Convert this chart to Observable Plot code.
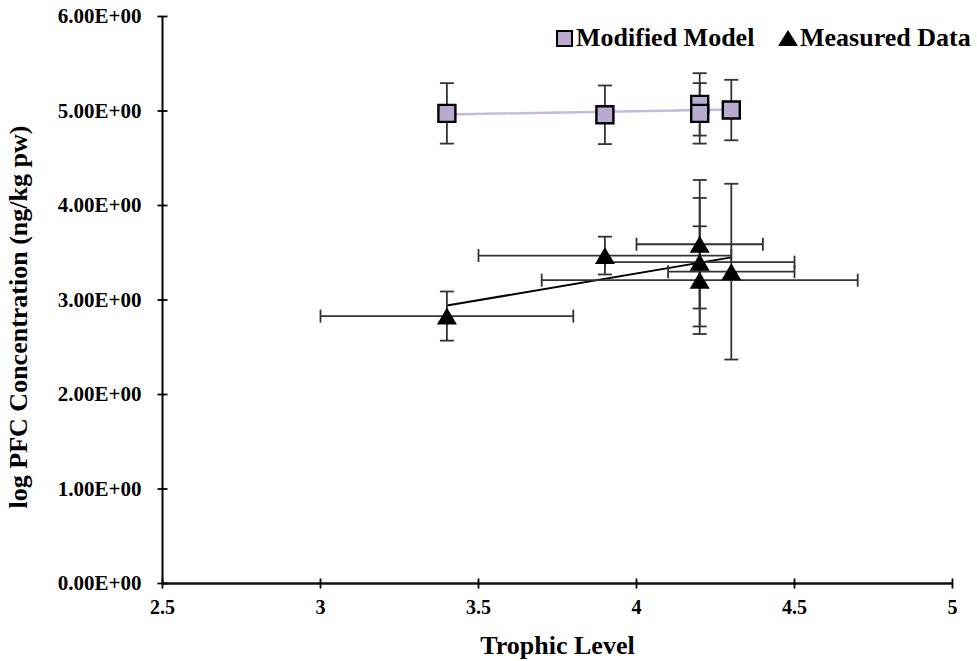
<!DOCTYPE html>
<html><head><meta charset="utf-8">
<script src="https://cdn.jsdelivr.net/npm/d3@7"></script>
<script src="https://cdn.jsdelivr.net/npm/@observablehq/plot@0.6"></script>
<style>
body{margin:0;background:#fff;}
#wrap{position:relative;width:977px;height:661px;font-family:"Liberation Serif","Times New Roman",serif;font-weight:bold;color:#000;}
.leg{position:absolute;top:24px;display:flex;align-items:center;font-family:"Liberation Serif","Times New Roman",serif;font-weight:700;font-size:26px;line-height:28px;white-space:nowrap;}
.sq{width:13px;height:13px;border:2px solid #000;background:#b8abcf;margin-right:3px;}
.tri{width:0;height:0;border-left:10px solid transparent;border-right:10px solid transparent;border-bottom:16px solid #000;margin-right:2px;}
</style></head><body><div id="wrap"></div>
<script>
// ---- data ----
const xTicks = [2.5, 3, 3.5, 4, 4.5, 5];
const yTicks = [0, 1, 2, 3, 4, 5, 6];
const seriesNames = ["Modified Model", "Measured Data"];
const xLabel = "Trophic Level";
const yLabel = "log PFC Concentration (ng/kg pw)";

const modelTrophic = [3.4, 3.9, 4.2, 4.2, 4.3];
const modelConc    = [4.975, 4.96, 5.07, 4.975, 5.01];
const modelConcErr = [0.32, 0.31, 0.33, 0.32, 0.32];

const measTrophic    = [3.4, 3.9, 4.2, 4.2, 4.2, 4.3];
const measConc       = [2.83, 3.47, 3.59, 3.40, 3.21, 3.30];
const measConcErr    = [0.26, 0.20, 0.68, 0.68, 0.57, 0.93];
const measTrophicErr = [0.4, 0.4, 0.2, 0.3, 0.5, 0.2];

// ---- tables ----
const model = modelTrophic.map((x, i) => ({x, y: modelConc[i], ey: modelConcErr[i], ex: 0}));
const meas = measTrophic.map((x, i) => ({x, y: measConc[i], ey: measConcErr[i], ex: measTrophicErr[i]}));
const allPts = model.concat(meas);

// ---- symbols ----
const hCap = {draw(c){ c.moveTo(-7, 0); c.lineTo(7, 0); }};
const vCap = {draw(c){ c.moveTo(0, -6.5); c.lineTo(0, 6.5); }};
const xTickSym = {draw(c){ c.moveTo(0, -5); c.lineTo(0, 5); }};
const yTickSym = {draw(c){ c.moveTo(-5, 0); c.lineTo(5, 0); }};
const squareSym = {draw(c){ c.rect(-8.5, -8.5, 17, 17); }};
const triSym = {draw(c){ c.moveTo(0, -8.5); c.lineTo(10, 8.5); c.lineTo(-10, 8.5); c.closePath(); }};

const fmtE = d => {
  const [m, e] = d.toExponential(2).split("e");
  return m + "E" + e[0] + e.slice(1).padStart(2, "0");
};

const errColor = "#333";
const font = "'Liberation Serif','Times New Roman',serif";

const chart = Plot.plot({
  width: 977,
  height: 661,
  marginLeft: 162,
  marginRight: 25,
  marginTop: 16,
  marginBottom: 78,
  style: {fontFamily: font, fontWeight: "bold", color: "#000", background: "#fff"},
  x: {domain: [2.5, 5], label: null},
  y: {domain: [0, 6], label: null},
  marks: [
    // axes lines
    Plot.ruleY([0], {stroke: "#111", strokeWidth: 2.6}),
    Plot.ruleX([2.5], {stroke: "#000", strokeWidth: 2}),
    Plot.dot(xTicks, {x: d => d, y: () => 0, symbol: xTickSym, r: 5, stroke: "#000", strokeWidth: 1.8, fill: "none"}),
    Plot.dot(yTicks, {x: () => 2.5, y: d => d, symbol: yTickSym, r: 5, stroke: "#000", strokeWidth: 1.8, fill: "none"}),
    Plot.axisX({ticks: xTicks, tickSize: 0, tickPadding: 16, fontSize: 20, label: null, tickFormat: d => String(d)}),
    Plot.axisY({ticks: yTicks, tickSize: 0, tickPadding: 21, fontSize: 21, label: null, tickFormat: fmtE}),
    Plot.text([xLabel], {frameAnchor: "bottom", dy: 62, lineAnchor: "middle", textAnchor: "middle", fontSize: 26, fontWeight: "bold"}),
    Plot.text([yLabel], {frameAnchor: "left", rotate: -90, dx: -144, dy: 17, lineAnchor: "middle", textAnchor: "middle", fontSize: 26, fontWeight: "bold"}),
    // trendlines
    Plot.linearRegressionY(model, {x: "x", y: "y", ci: 0, stroke: "#c6badb", strokeWidth: 2.5}),
    Plot.linearRegressionY(meas, {x: "x", y: "y", ci: 0, stroke: "#000", strokeWidth: 2}),
    // vertical error bars
    Plot.link(allPts, {x1: "x", x2: "x", y1: d => d.y - d.ey, y2: d => d.y + d.ey, stroke: errColor, strokeWidth: 1.8}),
    Plot.dot(allPts, {x: "x", y: d => d.y + d.ey, symbol: hCap, r: 5, stroke: errColor, strokeWidth: 1.8, fill: "none"}),
    Plot.dot(allPts, {x: "x", y: d => d.y - d.ey, symbol: hCap, r: 5, stroke: errColor, strokeWidth: 1.8, fill: "none"}),
    // horizontal error bars (measured)
    Plot.link(meas, {x1: d => d.x - d.ex, x2: d => d.x + d.ex, y1: "y", y2: "y", stroke: errColor, strokeWidth: 1.8}),
    Plot.dot(meas, {x: d => d.x - d.ex, y: "y", symbol: vCap, r: 5, stroke: errColor, strokeWidth: 1.8, fill: "none"}),
    Plot.dot(meas, {x: d => d.x + d.ex, y: "y", symbol: vCap, r: 5, stroke: errColor, strokeWidth: 1.8, fill: "none"}),
    // markers
    Plot.dot(model, {x: "x", y: "y", symbol: squareSym, r: 8, fill: "#b8abcf", stroke: "#000", strokeWidth: 2.4}),
    Plot.dot(meas, {x: "x", y: "y", symbol: triSym, r: 8, fill: "#000", stroke: "none"})
  ]
});

const wrap = document.getElementById("wrap");
wrap.appendChild(chart);

const leg1 = document.createElement("div");
leg1.className = "leg"; leg1.style.left = "556px";
leg1.innerHTML = `<span class="sq"></span><span>${seriesNames[0]}</span>`;
const leg2 = document.createElement("div");
leg2.className = "leg"; leg2.style.left = "778px";
leg2.innerHTML = `<span class="tri"></span><span>${seriesNames[1]}</span>`;
wrap.appendChild(leg1); wrap.appendChild(leg2);
</script></body></html>
